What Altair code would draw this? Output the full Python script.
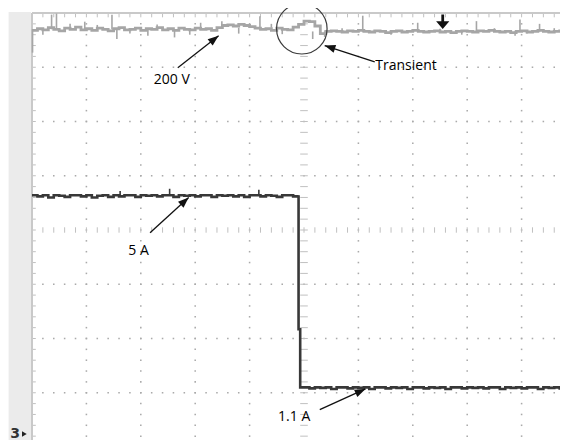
import math
import pandas as pd
import altair as alt

# ---- screen geometry (pixels per division) ----
PX_X = 54.4
PX_Y = 54.25
PLOT_W = 528
PLOT_H = 427
XMAX = PLOT_W / PX_X
YMIN = 4 - PLOT_H / PX_Y

# ---- channel 1: 200 V trace (divisions) ----
volt_y = [
    3.68, 3.71, 3.69, 3.73, 3.70, 3.67, 3.72, 3.70, 3.74, 3.69,
    3.71, 3.68, 3.72, 3.70, 3.67, 3.71, 3.73, 3.69, 3.70, 3.72,
    3.68, 3.71, 3.70, 3.73, 3.69, 3.71, 3.68, 3.72, 3.70, 3.69,
    3.72, 3.70, 3.71, 3.68, 3.73, 3.77, 3.78, 3.76, 3.79, 3.77,
    3.75, 3.72, 3.70, 3.71, 3.68, 3.72, 3.70, 3.69, 3.74,
    3.79, 3.85, 3.84, 3.76, 3.62, 3.66,
    3.67, 3.66, 3.65, 3.67, 3.66, 3.68, 3.66, 3.65, 3.67, 3.66,
    3.64, 3.66, 3.67, 3.65, 3.66, 3.68, 3.66, 3.65, 3.66, 3.67,
    3.65, 3.66, 3.64, 3.66, 3.67, 3.66, 3.65, 3.67, 3.66, 3.68,
    3.66, 3.65, 3.66, 3.64, 3.66, 3.67, 3.65, 3.66, 3.68, 3.66,
    3.65, 3.66, 3.67, 3.66,
]
volt_x = [round(0.1 * i, 2) for i in range(len(volt_y))]

volt_spike_x = [0.01, 0.20, 0.36, 0.45, 0.70, 0.97, 1.20, 1.47, 1.56, 1.80,
                2.13, 2.30, 2.62, 2.90, 3.10, 3.49, 3.80, 4.19, 4.40, 4.60,
                5.16, 5.38, 5.70, 6.08, 6.60, 7.09, 7.50, 7.90, 8.17, 8.50,
                8.88, 8.97, 9.10, 9.33, 9.60]
volt_spike_y = [3.27, 3.60, 3.97, 3.99, 3.80, 3.84, 3.78, 3.97, 3.52, 3.62,
                3.58, 3.79, 3.55, 3.60, 3.82, 3.85, 3.62, 3.94, 3.80, 3.61,
                3.52, 3.56, 3.72, 3.95, 3.60, 3.82, 3.71, 3.60, 3.85, 3.72,
                3.58, 3.88, 3.62, 3.80, 3.72]
volt_spike_base = [3.70] * 15 + [3.73] * 5 + [3.66] * 15

# ---- channel 3: current trace (divisions) ----
cur_high = [
    0.64, 0.62, 0.64, 0.60, 0.64, 0.63, 0.61, 0.64, 0.64, 0.62,
    0.64, 0.60, 0.63, 0.64, 0.61, 0.64, 0.62, 0.64, 0.64, 0.61,
    0.64, 0.63, 0.64, 0.62, 0.64, 0.64, 0.61, 0.64, 0.63, 0.64,
    0.62, 0.64, 0.64, 0.61, 0.64, 0.63, 0.64, 0.62, 0.64, 0.61,
    0.64, 0.64, 0.62, 0.64, 0.63, 0.61, 0.64, 0.64, 0.62,
]
cur_drop_x = [4.90, 4.90, 4.93, 4.93]
cur_drop_y = [0.64, -1.83, -1.83, -2.90]
cur_low = [
    -2.90, -2.92, -2.90, -2.91, -2.90, -2.93, -2.90, -2.90, -2.92, -2.90,
    -2.91, -2.90, -2.93, -2.90, -2.90, -2.92, -2.90, -2.91, -2.90, -2.93,
    -2.90, -2.90, -2.92, -2.90, -2.91, -2.90, -2.93, -2.90, -2.90, -2.92,
    -2.90, -2.91, -2.90, -2.92, -2.90, -2.90, -2.93, -2.90, -2.91, -2.90,
    -2.92, -2.90, -2.90, -2.93, -2.90, -2.91, -2.90, -2.92, -2.90,
]
cur_x = ([round(0.1 * i, 2) for i in range(len(cur_high))] + cur_drop_x
         + [round(5.0 + 0.1 * i, 2) for i in range(len(cur_low))])
cur_y = cur_high + cur_drop_y + cur_low
cur_spike_x = [1.62, 2.53, 4.17]
cur_spike_y = [0.72, 0.76, 0.74]

# ---- annotations ----
labels = ["200 V", "Transient", "5 A", "1.1 A"]
label_x = [2.57, 6.31, 1.96, 4.82]
label_y = [2.77, 3.03, -0.38, -3.45]
label_align = ["center", "left", "center", "center"]
arrow_x1 = [2.68, 6.30, 2.17, 5.29]
arrow_y1 = [2.99, 3.10, -0.05, -3.31]
arrow_x2 = [3.43, 5.38, 2.88, 6.13]
arrow_y2 = [3.58, 3.40, 0.60, -2.93]
circle_x = [4.96]
circle_y = [3.71]
trigger_x = [7.55]
trigger_y = [3.72]

# ---------------------------------------------------------------
xs = alt.Scale(domain=[0, XMAX], nice=False, zero=False)
ys = alt.Scale(domain=[YMIN, 4], nice=False, zero=False)


def X(f="x"):
    return alt.X(f"{f}:Q", scale=xs, axis=None)


def Y(f="y"):
    return alt.Y(f"{f}:Q", scale=ys, axis=None)


minor_x = [round(0.2 * k, 2) for k in range(0, 50) if 0.2 * k <= XMAX + 0.2]
minor_y = [round(-4 + 0.2 * k, 2) for k in range(0, 41)]

# dotted grid
dots = []
for gx in range(1, 10):
    if gx == 5 or gx > XMAX:
        continue
    for yy in minor_y[1:-1]:
        dots.append({"x": gx, "y": yy})
for gy in [-3, -2, -1, 1, 2, 3]:
    for xx in minor_x[1:]:
        dots.append({"x": xx, "y": gy})
dots_df = pd.DataFrame(dots)

ticks = []
for xx in minor_x[1:]:
    ticks.append({"x": xx, "x2": xx, "y": 4, "y2": 3.92})
    ticks.append({"x": xx, "x2": xx, "y": -4, "y2": -3.92})
    ticks.append({"x": xx, "x2": xx, "y": -0.05, "y2": 0.05})
for yy in minor_y[1:-1]:
    ticks.append({"x": 0, "x2": 0.07, "y": yy, "y2": yy})
    ticks.append({"x": 4.93, "x2": 5.07, "y": yy, "y2": yy})
ticks_df = pd.DataFrame(ticks)

strip = alt.Chart(pd.DataFrame({"x": [-0.43], "x2": [-0.02], "y": [-4.1], "y2": [4.02]})).mark_rect(
    color="#ebebeb").encode(x=X(), x2="x2", y=Y(), y2="y2")

border = alt.Chart(pd.DataFrame({"x": [0, 0], "x2": [XMAX + 0.2, 0], "y": [4, 4], "y2": [4, -4.1]})).mark_rule(
    color="#c9c9c9", strokeWidth=2).encode(x=X(), x2="x2", y=Y(), y2="y2")

grid = alt.Chart(dots_df).mark_square(size=2.4, color="#aaaaaa", opacity=1).encode(x=X(), y=Y())
tick_layer = alt.Chart(ticks_df).mark_rule(color="#c0c0c0", strokeWidth=1).encode(
    x=X(), x2="x2", y=Y(), y2="y2")

volt_df = pd.DataFrame({"x": volt_x, "y": volt_y, "i": range(len(volt_y))})
volt = alt.Chart(volt_df).mark_line(color="#a6a6a6", strokeWidth=2.8, interpolate="step-after").encode(
    x=X(), y=Y(), order="i:Q")
vsp = alt.Chart(pd.DataFrame({"x": volt_spike_x, "y": volt_spike_y, "y2": volt_spike_base})).mark_rule(
    color="#a6a6a6", strokeWidth=1.6).encode(x=X(), y=Y(), y2="y2")

cur_df = pd.DataFrame({"x": cur_x, "y": cur_y, "i": range(len(cur_y))})
cur = alt.Chart(cur_df).mark_line(color="#383838", strokeWidth=2.6, interpolate="step-after").encode(
    x=X(), y=Y(), order="i:Q")
csp = alt.Chart(pd.DataFrame({"x": cur_spike_x, "y": cur_spike_y, "y2": [0.64] * len(cur_spike_x)})).mark_rule(
    color="#383838", strokeWidth=1.6).encode(x=X(), y=Y(), y2="y2")

circle = alt.Chart(pd.DataFrame({"x": circle_x, "y": circle_y})).mark_point(
    shape="circle", size=2550, filled=False, color="#3a3a3a", strokeWidth=1.2, opacity=1).encode(x=X(), y=Y())

angles = [(math.degrees(math.atan2((x2 - x1) * PX_X, (y2 - y1) * PX_Y)) + 360) % 360
          for x1, y1, x2, y2 in zip(arrow_x1, arrow_y1, arrow_x2, arrow_y2)]
arr_df = pd.DataFrame({"x": arrow_x1, "y": arrow_y1, "x2": arrow_x2, "y2": arrow_y2, "a": angles})
arrow_lines = alt.Chart(arr_df).mark_rule(color="#111111", strokeWidth=1.3).encode(
    x=X(), x2="x2", y=Y(), y2="y2")
arrow_heads = alt.Chart(arr_df).mark_point(
    shape="M0,0 L0.38,1 L-0.38,1 Z", size=460, filled=True, color="#111111", opacity=1).encode(
    x=X("x2"), y=Y("y2"), angle=alt.Angle("a:Q", scale=None))

trigger = alt.Chart(pd.DataFrame({"x": trigger_x, "y": trigger_y})).mark_point(
    shape="M-0.1,-1 L0.1,-1 L0.1,-0.5 L0.48,-0.5 L0,0.05 L-0.48,-0.5 L-0.1,-0.5 Z",
    size=760, filled=True, color="#111111", opacity=1).encode(x=X(), y=Y())

lab_df = pd.DataFrame({"x": label_x, "y": label_y, "t": labels, "al": label_align})
texts = []
for al in ["center", "left"]:
    sub = lab_df[lab_df["al"] == al]
    texts.append(alt.Chart(sub).mark_text(
        align=al, baseline="middle", font="Open Sans", fontSize=14, color="#000000").encode(
        x=X(), y=Y(), text="t:N"))

ch3 = alt.Chart(pd.DataFrame({"x": [-0.31], "y": [-3.76], "t": ["3"]})).mark_text(
    align="center", baseline="middle", font="DejaVu Sans", fontSize=14, fontWeight="bold",
    color="#333333").encode(x=X(), y=Y(), text="t:N")
ch3_arrow = alt.Chart(pd.DataFrame({"x": [-0.14], "y": [-3.76]})).mark_point(
    shape="triangle-right", size=30, filled=True, color="#222222", opacity=1).encode(x=X(), y=Y())

chart = alt.layer(
    strip, grid, tick_layer, border, volt, vsp, cur, csp, circle,
    arrow_lines, arrow_heads, trigger, *texts, ch3, ch3_arrow
).properties(
    width=PLOT_W, height=PLOT_H,
    padding={"left": 24, "top": 5, "right": 0, "bottom": 0},
    autosize=alt.AutoSizeParams(type="none"),
    background="white",
).configure_view(stroke=None)

chart.save("out.html", embed_options={"renderer": "svg", "actions": False})
